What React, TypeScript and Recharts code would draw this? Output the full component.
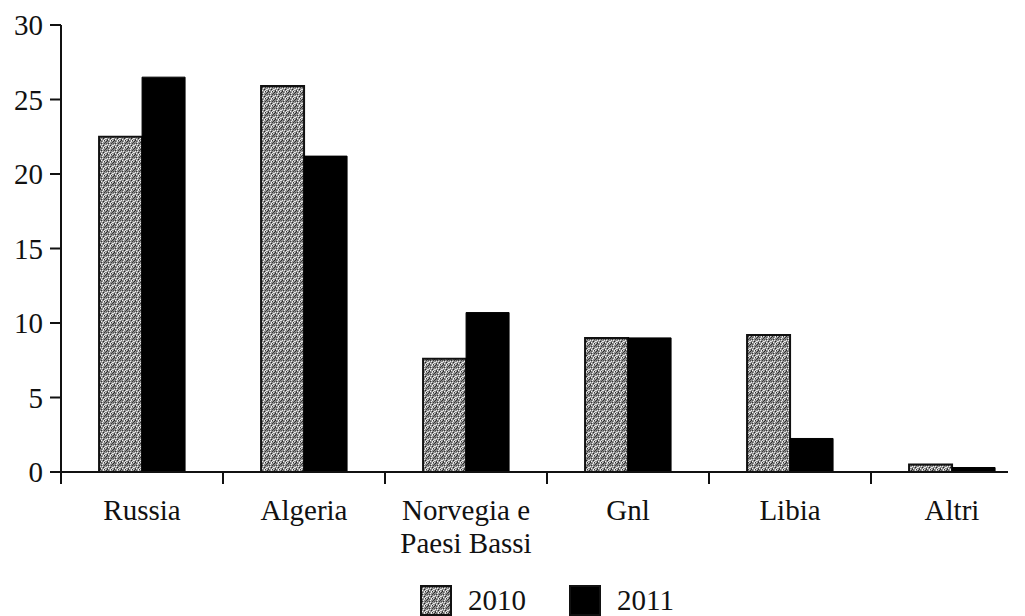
import React from 'react';
import { BarChart, Bar, XAxis, YAxis, Legend } from 'recharts';

const categories = ['Russia', 'Algeria', 'Norvegia e\nPaesi Bassi', 'Gnl', 'Libia', 'Altri'];
const values2010 = [22.5, 25.9, 7.6, 9.0, 9.2, 0.5];
const values2011 = [26.5, 21.2, 10.7, 9.0, 2.25, 0.3];
const seriesNames = ['2010', '2011'];
const yTicks = [0, 5, 10, 15, 20, 25, 30];

const data = categories.map((c, i) => ({ name: c, v2010: values2010[i], v2011: values2011[i] }));

const FONT = '"Liberation Serif", "Times New Roman", serif';
const CHART_W = 1080;
const CHART_H = 608;
const MARGIN = { top: 17, right: 55, bottom: 0, left: 0 };
const Y_W = 53;
const BAND = (CHART_W - MARGIN.left - MARGIN.right - Y_W) / categories.length;

const grainDots: [number, number, string][] = [
  [0, 0, '#2a2a2a'], [3, 1, '#f2f2f2'], [5, 2, '#3a3a3a'], [1, 3, '#ececec'],
  [4, 4, '#222222'], [2, 5, '#f6f6f6'], [0, 2, '#505050'], [4, 0, '#e4e4e4'],
  [2, 2, '#333333'], [5, 5, '#e6e6e6'], [1, 5, '#444444'], [3, 3, '#f0f0f0'],
  [6, 1, '#3c3c3c'], [6, 4, '#eaeaea'], [1, 6, '#2c2c2c'], [4, 6, '#eeeeee'],
  [2, 0, '#5a5a5a'], [5, 6, '#383838'], [6, 6, '#dedede'], [0, 4, '#e2e2e2'],
];

const GrainPattern = ({ id }: { id: string }) => (
  <pattern id={id} width="7" height="7" patternUnits="userSpaceOnUse">
    <rect width="7" height="7" fill="#8e8e8e" />
    {grainDots.map((d, k) => (
      <rect key={k} x={d[0]} y={d[1]} width={1} height={1} fill={d[2]} />
    ))}
  </pattern>
);

const XTick = (props: any) => {
  const { x, y, payload } = props;
  const off = payload && typeof payload.offset === 'number' && payload.offset > 0 ? payload.offset : BAND / 2;
  const lines = String(payload.value).split('\n');
  return (
    <g>
      <line x1={x - off} x2={x - off} y1={y} y2={y + 12} stroke="#111" strokeWidth={2} />
      <text x={x} y={y + 48} textAnchor="middle" fill="#111" fontFamily={FONT} fontSize={29}>
        {lines.map((l, i) => (
          <tspan key={i} x={x} dy={i === 0 ? 0 : 33}>{l}</tspan>
        ))}
      </text>
    </g>
  );
};

const LegendContent = () => (
  <div style={{ display: 'flex', justifyContent: 'center', alignItems: 'center', height: 34, fontFamily: FONT, fontSize: 29, color: '#111' }}>
    {seriesNames.map((n, i) => (
      <div key={n} style={{ display: 'flex', alignItems: 'center', marginLeft: i === 0 ? 0 : 43 }}>
        <svg width={32} height={31} style={{ display: 'block' }}>
          <defs>
            <GrainPattern id={`lg${i}`} />
          </defs>
          <rect x={1} y={1} width={30} height={29} fill={i === 0 ? `url(#lg${i})` : '#000'} stroke="#111" strokeWidth={2} />
        </svg>
        <span style={{ marginLeft: 16, lineHeight: '30px' }}>{n}</span>
      </div>
    ))}
  </div>
);

export default function App() {
  return (
    <div style={{ width: 1000, height: CHART_H, overflow: 'hidden', position: 'relative', background: '#fff' }}>
      <BarChart width={CHART_W} height={CHART_H} data={data} margin={MARGIN} barCategoryGap="23.5%" barGap={0}>
        <defs>
          <GrainPattern id="grain" />
        </defs>
        <YAxis
          type="number"
          domain={[0, 30]}
          ticks={yTicks}
          width={Y_W}
          axisLine={{ stroke: '#111', strokeWidth: 2 }}
          tickLine={{ stroke: '#111', strokeWidth: 2 }}
          tickSize={11}
          tickMargin={7}
          tick={{ fill: '#111', fontFamily: FONT, fontSize: 29 }}
        />
        <XAxis
          dataKey="name"
          height={110}
          interval={0}
          axisLine={{ stroke: '#111', strokeWidth: 2 }}
          tickLine={false}
          tickSize={0}
          tickMargin={0}
          tick={<XTick />}
        />
        <Legend
          verticalAlign="bottom"
          content={<LegendContent />}
          wrapperStyle={{ left: Y_W, width: CHART_W - MARGIN.right - Y_W, height: 34, bottom: 'auto', top: 575 }}
        />
        <Bar dataKey="v2010" name={seriesNames[0]} fill="url(#grain)" stroke="#111" strokeWidth={2} isAnimationActive={false} />
        <Bar dataKey="v2011" name={seriesNames[1]} fill="#000" stroke="#000" strokeWidth={1} isAnimationActive={false} />
      </BarChart>
    </div>
  );
}
